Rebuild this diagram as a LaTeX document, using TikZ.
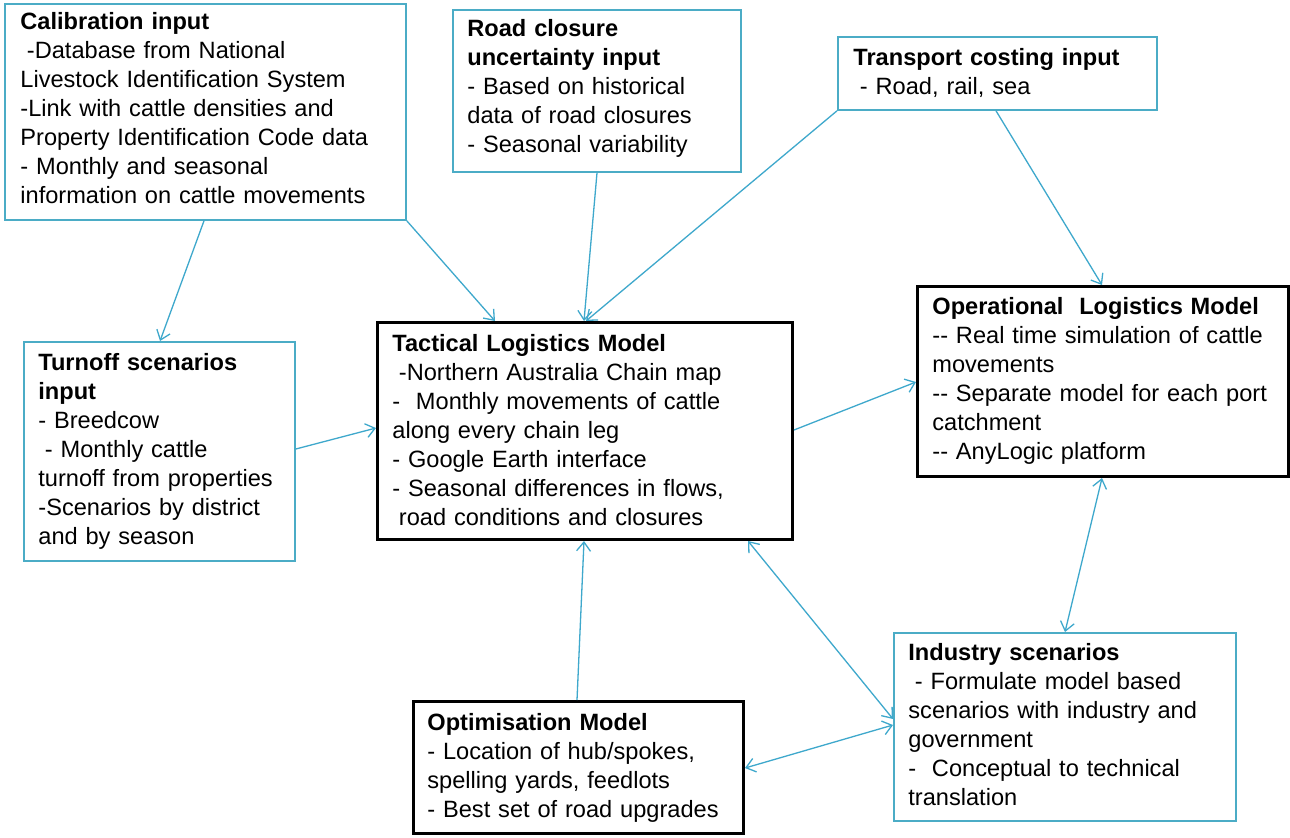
\documentclass[tikz,border=0pt]{standalone}
\usepackage{fontspec}
\setmainfont{Liberation Sans}
\usetikzlibrary{arrows.meta,calc}
\definecolor{boxblue}{RGB}{75,172,198}
\definecolor{linkblue}{RGB}{62,168,204}
\newcommand{\lsp}{\hspace*{0.278em}}
\newcommand{\ddash}{-{}-}
\tikzset{
  inbox/.style={draw=boxblue, line width=0.9pt, fill=white, anchor=north west, inner sep=0pt},
  modbox/.style={draw=black, line width=1.5pt, fill=white, anchor=north west, inner sep=0pt},
  txt/.style={anchor=base west, inner sep=0pt, align=left, text width=220pt,
    font=\fontsize{11.8pt}{14.5pt}\selectfont},
  tip/.tip={Straight Barb[length=4.5pt,width=7pt]},
  link/.style={draw=linkblue, line width=0.65pt, -tip},
  blink/.style={draw=linkblue, line width=0.65pt, tip-tip},
}
\begin{document}
\begin{tikzpicture}[x=0.5pt,y=-0.5pt]
\useasboundingbox[fill=white] (0,0) rectangle (1290,837);
% boxes
\node[inbox, minimum width=200.5pt, minimum height=108pt] (cal) at (4,3) {};
\node[inbox, minimum width=144pt, minimum height=81pt] (road) at (452,9) {};
\node[inbox, minimum width=159.5pt, minimum height=36.5pt] (trans) at (837,36) {};
\node[modbox, minimum width=185.5pt, minimum height=95pt] (op) at (916,285) {};
\node[inbox, minimum width=135.5pt, minimum height=109.5pt] (turn) at (23,341) {};
\node[modbox, minimum width=207.5pt, minimum height=108.5pt] (tac) at (376,321) {};
\node[modbox, minimum width=165pt, minimum height=66pt] (opt) at (412,700) {};
\node[inbox, minimum width=171pt, minimum height=94pt] (ind) at (893,632) {};
% connectors
\draw[link] ($(cal.south west)+(200,0)$) -- ($(turn.north west)+(137,0)$);
\draw[link] (cal.south east) -- ($(tac.north west)+(119,0)$);
\draw[link] ($(road.south west)+(145,0)$) -- ($(tac.north west)+(208,0)$);
\draw[link] (trans.south west) -- ($(tac.north west)+(210,0)$);
\draw[link] ($(trans.south west)+(159,0)$) -- ($(op.north west)+(186,0)$);
\draw[link] ($(turn.north east)+(0,108)$) -- ($(tac.north west)+(0,107)$);
\draw[link] ($(tac.north east)+(0,109)$) -- ($(op.north west)+(0,97)$);
\draw[blink] ($(op.south west)+(186,0)$) -- ($(ind.north west)+(172,0)$);
\draw[blink] ($(tac.south west)+(372,0)$) -- ($(ind.north west)+(0,87)$);
\draw[blink] ($(opt.north east)+(0,68)$) -- ($(ind.north west)+(0,93)$);
\draw[link] ($(opt.north west)+(165,0)$) -- ($(tac.south west)+(208,0)$);
% texts
\node[txt] (calT) at (20,29) {\textbf{Calibration input}\\ \lsp-Database from National\\ Livestock Identification System\\ -Link with cattle densities and\\ Property Identification Code data\\ - Monthly and seasonal\\ information on cattle movements};
\node[txt] (roadT) at (467,36) {\textbf{Road closure}\\ \textbf{uncertainty input}\\ - Based on historical\\ data of road closures\\ - Seasonal variability};
\node[txt] (transT) at (853,65) {\textbf{Transport costing input}\\ \lsp- Road, rail, sea};
\node[txt] (opT) at (932,314) {\textbf{Operational\ \ Logistics Model}\\ \ddash\ Real time simulation of cattle\\ movements\\ \ddash\ Separate model for each port\\ catchment\\ \ddash\ AnyLogic platform};
\node[txt] (turnT) at (38,370) {\textbf{Turnoff scenarios}\\ \textbf{input}\\ - Breedcow\\ \lsp- Monthly cattle\\ turnoff from properties\\ -Scenarios by district\\ and by season};
\node[txt] (tacT) at (392,351) {\textbf{Tactical Logistics Model}\\ \lsp-Northern Australia Chain map\\ -\ \ Monthly movements of cattle\\ along every chain leg\\ - Google Earth interface\\ - Seasonal differences in flows,\\ \lsp road conditions and closures};
\node[txt] (optT) at (427,730) {\textbf{Optimisation Model}\\ - Location of hub/spokes,\\ spelling yards, feedlots\\ - Best set of road upgrades};
\node[txt] (indT) at (908,660) {\textbf{Industry scenarios}\\ \lsp- Formulate model based\\ scenarios with industry and\\ government\\ -\ \ Conceptual to technical\\ translation};
\end{tikzpicture}
\end{document}
